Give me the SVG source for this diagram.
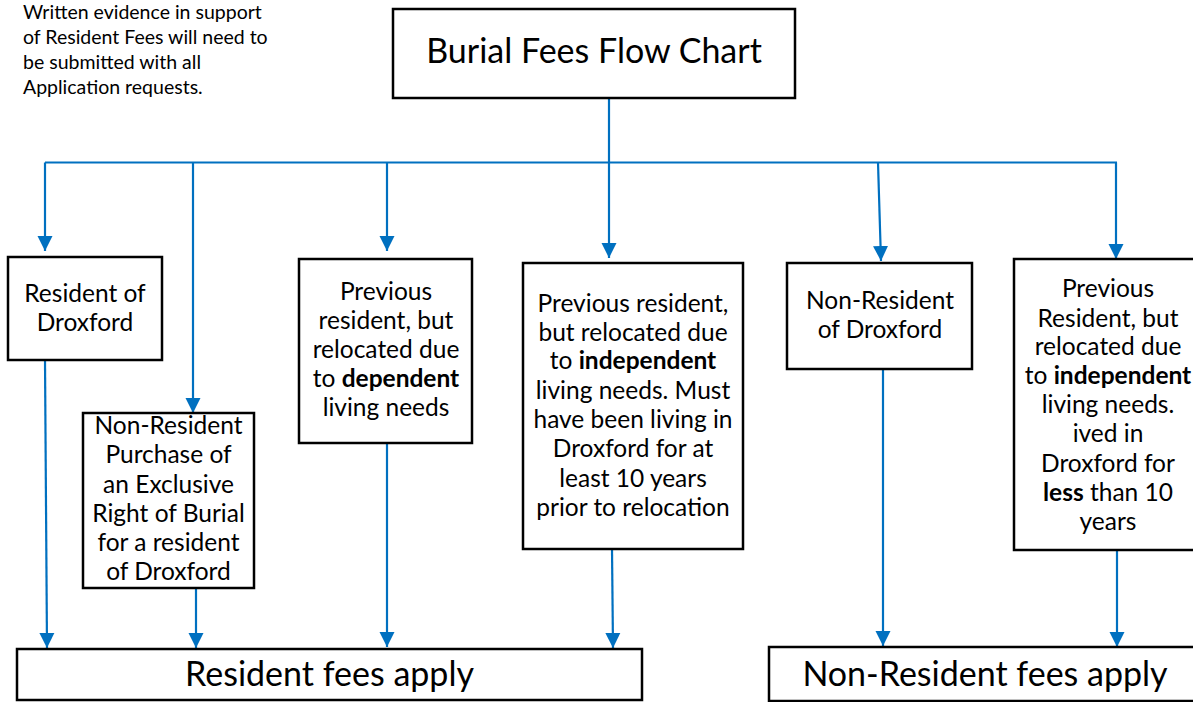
<svg xmlns="http://www.w3.org/2000/svg" width="1193" height="702" viewBox="0 0 1193 702">
<defs>
<marker id="ah" markerUnits="userSpaceOnUse" markerWidth="16" markerHeight="16" viewBox="0 0 16 16" refX="15" refY="8" orient="auto">
<path d="M0,0.5 L15,8 L0,15.5 Z" fill="#0070C0"/>
</marker>
<style>
.box{fill:#fff;stroke:#000;stroke-width:2.5}
.t{font-family:Lato,"Open Sans","Liberation Sans",sans-serif;fill:#000;text-anchor:middle}
.m{font-size:24.5px}
.big{font-size:34px}
.note{font-family:Lato,"Open Sans","Liberation Sans",sans-serif;font-size:19.5px;fill:#000}
.c{fill:none;stroke:#0070C0;stroke-width:2.2}
.ca{fill:none;stroke:#0070C0;stroke-width:2.2;marker-end:url(#ah)}
.b{font-weight:bold}
</style>
</defs>
<rect width="1193" height="702" fill="#fff"/>

<g id="note">
<text class="note" x="23" y="19">Written evidence in support</text>
<text class="note" x="23" y="44">of Resident Fees will need to</text>
<text class="note" x="23" y="69">be submitted with all</text>
<text class="note" x="23" y="94">Application requests.</text>
</g>

<g id="connectors">
<path class="c" d="M45,162.5 H1117"/>
<path class="ca" d="M609,98 V258"/>
<path class="ca" d="M45,162.5 V251"/>
<path class="ca" d="M193,162.5 V413"/>
<path class="ca" d="M387,162.5 V251"/>
<path class="ca" d="M878,162.5 L881,261"/>
<path class="ca" d="M1116,162.5 V259"/>
<path class="ca" d="M45,360 L47,648"/>
<path class="ca" d="M196,588 V648"/>
<path class="ca" d="M387,443 V647"/>
<path class="ca" d="M612,549 L613,648"/>
<path class="ca" d="M883,369 V646"/>
<path class="ca" d="M1117,550 V647"/>
</g>

<g id="title">
<rect class="box" x="393" y="9" width="402" height="89"/>
<text class="t big" x="594" y="63">Burial Fees Flow Chart</text>
</g>

<g id="resident">
<rect class="box" x="8" y="257" width="154" height="103"/>
<text class="t m" x="85" y="302">Resident of</text>
<text class="t m" x="85" y="331">Droxford</text>
</g>

<g id="purchase">
<rect class="box" x="83" y="413" width="171" height="175"/>
<text class="t m" x="168.5" y="434">Non-Resident</text>
<text class="t m" x="168.5" y="463">Purchase of</text>
<text class="t m" x="168.5" y="493">an Exclusive</text>
<text class="t m" x="168.5" y="522">Right of Burial</text>
<text class="t m" x="168.5" y="551">for a resident</text>
<text class="t m" x="168.5" y="580">of Droxford</text>
</g>

<g id="dependent">
<rect class="box" x="299" y="259" width="173" height="184"/>
<text class="t m" x="386" y="300">Previous</text>
<text class="t m" x="386" y="329">resident, but</text>
<text class="t m" x="386" y="358">relocated due</text>
<text class="t m" x="386" y="387">to <tspan class="b">dependent</tspan></text>
<text class="t m" x="386" y="416">living needs</text>
</g>

<g id="independent10">
<rect class="box" x="523" y="263" width="220" height="286"/>
<text class="t m" x="633" y="312">Previous resident,</text>
<text class="t m" x="633" y="341">but relocated due</text>
<text class="t m" x="633" y="369">to <tspan class="b">independent</tspan></text>
<text class="t m" x="633" y="399">living needs. Must</text>
<text class="t m" x="633" y="428">have been living in</text>
<text class="t m" x="633" y="457">Droxford for at</text>
<text class="t m" x="633" y="487">least 10 years</text>
<text class="t m" x="633" y="516">prior to relocation</text>
</g>

<g id="nonresident">
<rect class="box" x="787" y="263" width="185" height="106"/>
<text class="t m" x="880" y="309">Non-Resident</text>
<text class="t m" x="880" y="338">of Droxford</text>
</g>

<g id="independentless">
<rect class="box" x="1014" y="259" width="190" height="291"/>
<text class="t m" x="1108" y="297">Previous</text>
<text class="t m" x="1108" y="327">Resident, but</text>
<text class="t m" x="1108" y="355">relocated due</text>
<text class="t m" x="1108" y="384">to <tspan class="b">independent</tspan></text>
<text class="t m" x="1108" y="413">living needs.</text>
<text class="t m" x="1108" y="442">ived in</text>
<text class="t m" x="1108" y="472">Droxford for</text>
<text class="t m" x="1108" y="501"><tspan class="b">less</tspan> than 10</text>
<text class="t m" x="1108" y="530">years</text>
</g>

<g id="residentfees">
<rect class="box" x="17" y="649" width="625" height="51"/>
<text class="t big" x="329.5" y="686">Resident fees apply</text>
</g>

<g id="nonresidentfees">
<rect class="box" x="769" y="647" width="432" height="54"/>
<text class="t big" x="985" y="686">Non-Resident fees apply</text>
</g>
</svg>
